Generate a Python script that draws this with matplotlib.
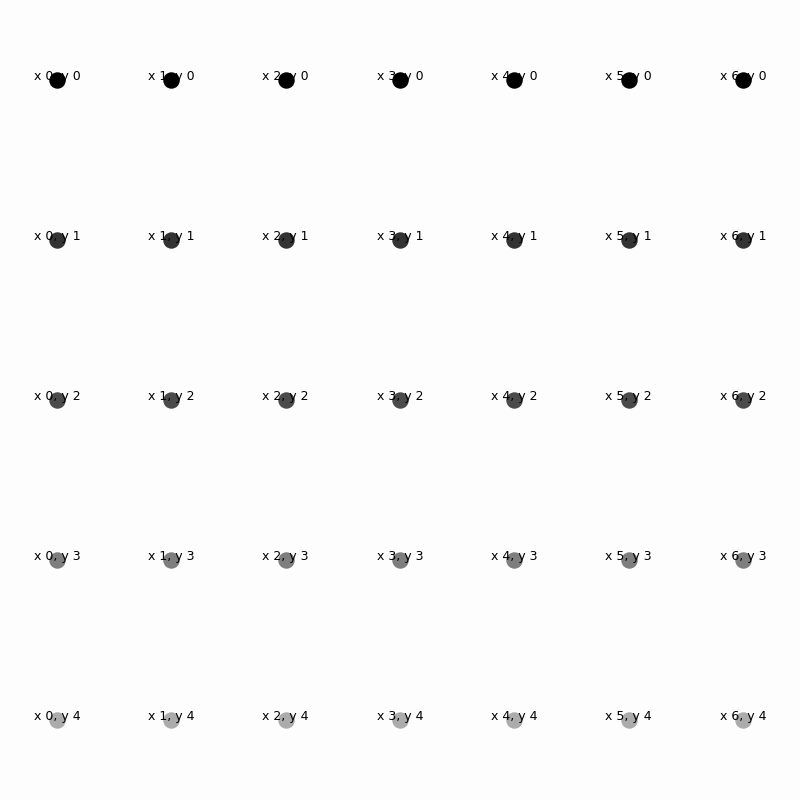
import matplotlib
matplotlib.use("Agg")
import matplotlib.pyplot as plt

xs = [0, 1, 2, 3, 4, 5, 6]
ys = [0, 1, 2, 3, 4]
row_alpha = [1.0, 0.8, 0.7, 0.5, 0.32]

fig = plt.figure(figsize=(8, 8), dpi=100, facecolor="#fdfdfd")
ax = fig.add_axes([0, 0, 1, 1])
ax.set_facecolor("#fdfdfd")
ax.set_xlim(-0.5, 6.5)
ax.set_ylim(4.5, -0.5)
ax.axis("off")

for y, a in zip(ys, row_alpha):
    for x in xs:
        ax.text(x, y, f"x {x}, y {y}", ha="center", va="baseline",
                fontsize=9, color="black", zorder=1)
        ax.scatter([x], [y], s=140, color="black", alpha=a,
                   linewidths=0, zorder=2)

fig.savefig("out.png", dpi=100, facecolor=fig.get_facecolor())
